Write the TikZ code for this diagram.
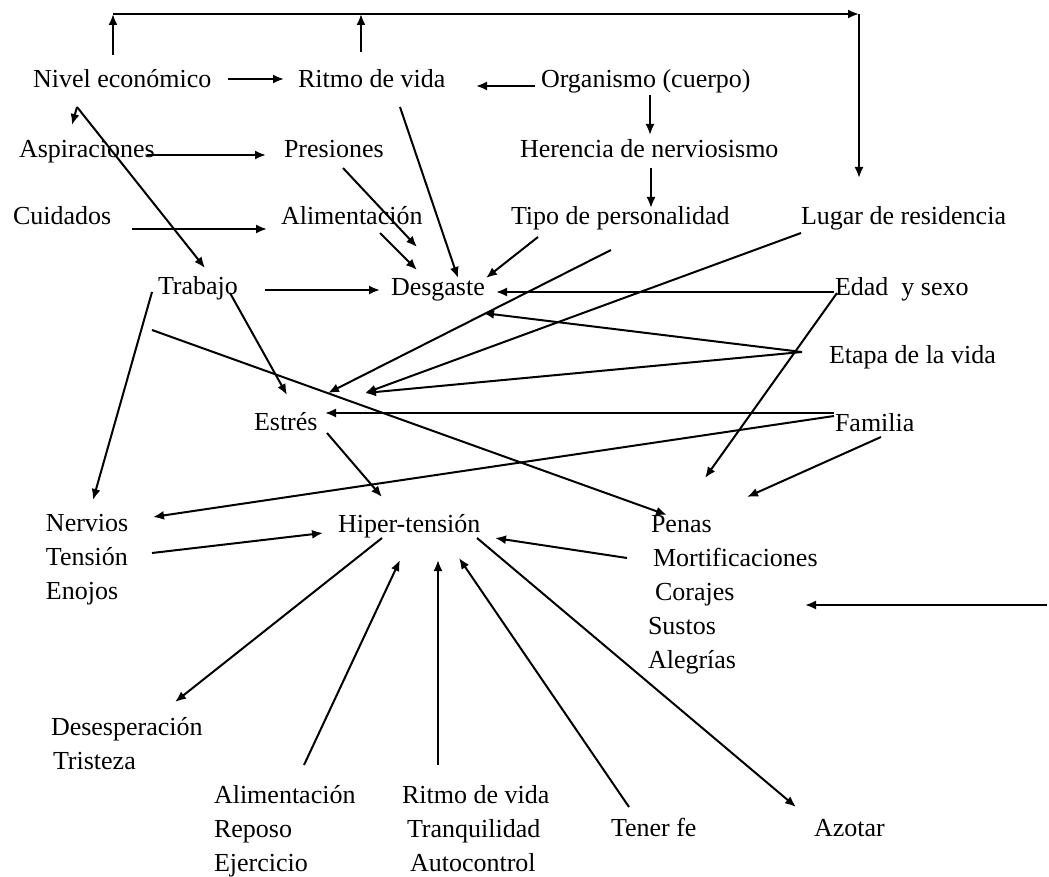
\documentclass[tikz,border=0pt]{standalone}
\usepackage{fontspec}
\setmainfont{Liberation Serif}
\usetikzlibrary{arrows.meta}

\begin{document}
\begin{tikzpicture}[x=0.5pt, y=-0.5pt, line width=1pt, >={Latex[length=5.5pt,width=4.5pt]},
          every node/.style={font=\fontsize{13}{17}\selectfont, inner sep=0pt, anchor=base west},
          list/.style={align=left}]
        \useasboundingbox (0,0) rectangle (1049,877);
        \node (nivel) at (32,88) {Nivel económico};
        \node (ritmo) at (297,88) {Ritmo de vida};
        \node (organismo) at (540,88) {Organismo (cuerpo)};
        \node (aspiraciones) at (18,158) {Aspiraciones};
        \node (presiones) at (283,158) {Presiones};
        \node (herencia) at (519,158) {Herencia de nerviosismo};
        \node (cuidados) at (12,225) {Cuidados};
        \node (alimentacion) at (280,225) {Alimentación};
        \node (tipo) at (510,225) {Tipo de personalidad};
        \node (lugar) at (800,225) {Lugar de residencia};
        \node (trabajo) at (157,294) {Trabajo};
        \node (desgaste) at (390,295) {Desgaste};
        \node (edad) at (834,295) {Edad\ \ y sexo};
        \node (etapa) at (828,363) {Etapa de la vida};
        \node (familia) at (834,431) {Familia};
        \node (estres) at (253,430) {Estrés};
        \node[list] (nervios) at (45,599) {Nervios\\Tensión\\Enojos};
        \node (hiper) at (337,532) {Hiper-tensión};
        \node[list] (penas) at (647,668) {\hspace*{1.5pt}Penas\\\hspace*{2.5pt}Mortificaciones\\\hspace*{3.5pt}Corajes\\Sustos\\Alegrías};
        \node[list] (desesperacion) at (50,769) {Desesperación\\\hspace*{1pt}Tristeza};
        \node[list] (alim_reposo) at (213,871) {Alimentación\\Reposo\\Ejercicio};
        \node[list] (ritmo_calma) at (401,871) {Ritmo de vida\\\hspace*{2.5pt}Tranquilidad\\\hspace*{4pt}Autocontrol};
        \node (fe) at (610,836) {Tener fe};
        \node (azotar) at (813,836) {Azotar};
        \coordinate (corner) at ([shift={(59,-211)}]lugar.base west);
        \coordinate (margen) at ([shift={(400,-63)}]penas.base west);

        \path[->]
        ([shift={(81,-33)}]nivel.base west) edge ([shift={(81,-74)}]nivel.base west)
        ([shift={(64,-36)}]ritmo.base west) edge ([shift={(64,-74)}]ritmo.base west)
        ([shift={(81,-74)}]nivel.base west) edge (corner)
        (corner) edge ([shift={(59,-47)}]lugar.base west)
        ([shift={(196,-9)}]nivel.base west) edge ([shift={(-13,-9)}]ritmo.base west)
        ([shift={(-5,-2)}]organismo.base west) edge ([shift={(179,-2)}]ritmo.base west)
        ([shift={(110,7)}]organismo.base west) edge ([shift={(131,-23)}]herencia.base west)
        ([shift={(132,10)}]herencia.base west) edge ([shift={(141,-17)}]tipo.base west)
        ([shift={(45,19)}]nivel.base west) edge ([shift={(54,-33)}]aspiraciones.base west)
        ([shift={(45,19)}]nivel.base west) edge ([shift={(48,-26)}]trabajo.base west)
        ([shift={(129,-3)}]aspiraciones.base west) edge ([shift={(-17,-3)}]presiones.base west)
        ([shift={(120,4)}]cuidados.base west) edge ([shift={(-13,4)}]alimentacion.base west);

        \path[->]
        ([shift={(60,10)}]presiones.base west) edge ([shift={(27,-48)}]desgaste.base west)
        ([shift={(100,8)}]alimentacion.base west) edge ([shift={(27,-25)}]desgaste.base west)
        ([shift={(103,19)}]ritmo.base west) edge ([shift={(68,-17)}]desgaste.base west)
        ([shift={(28,12)}]tipo.base west) edge ([shift={(96,-17)}]desgaste.base west)
        ([shift={(108,-4)}]trabajo.base west) edge ([shift={(-10,-5)}]desgaste.base west)
        ([shift={(0,-3)}]edad.base west) edge ([shift={(106,-3)}]desgaste.base west)
        ([shift={(-26,-11)}]etapa.base west) edge ([shift={(93,18)}]desgaste.base west);

        \path[->]
        ([shift={(101,25)}]tipo.base west) edge ([shift={(75,-37)}]estres.base west)
        ([shift={(1,8)}]lugar.base west) edge ([shift={(112,-37)}]estres.base west)
        ([shift={(-26,-11)}]etapa.base west) edge ([shift={(112,-37)}]estres.base west)
        ([shift={(0,-18)}]familia.base west) edge ([shift={(72,-17)}]estres.base west)
        ([shift={(73,-1)}]trabajo.base west) edge ([shift={(34,-35)}]estres.base west)
        ([shift={(0,-15)}]familia.base west) edge ([shift={(108,-82)}]nervios.base west)
        ([shift={(-5,-2)}]trabajo.base west) edge ([shift={(48,-99)}]nervios.base west)
        ([shift={(3,-2)}]edad.base west) edge ([shift={(58,-190)}]penas.base west)
        ([shift={(47,6)}]familia.base west) edge ([shift={(100,-171)}]penas.base west)
        ([shift={(-5,36)}]trabajo.base west) edge ([shift={(20,-153)}]penas.base west)
        (margen) edge ([shift={(158,-63)}]penas.base west);

        \path[->]
        ([shift={(74,3)}]estres.base west) edge ([shift={(45,-35)}]hiper.base west)
        ([shift={(107,-46)}]nervios.base west) edge ([shift={(-14,1)}]hiper.base west)
        ([shift={(-20,-110)}]penas.base west) edge ([shift={(158,6)}]hiper.base west)
        ([shift={(45,6)}]hiper.base west) edge ([shift={(125,-67)}]desesperacion.base west)
        ([shift={(91,-106)}]alim_reposo.base west) edge ([shift={(63,28)}]hiper.base west)
        ([shift={(37,-106)}]ritmo_calma.base west) edge ([shift={(101,28)}]hiper.base west)
        ([shift={(19,-29)}]fe.base west) edge ([shift={(122,26)}]hiper.base west)
        ([shift={(140,6)}]hiper.base west) edge ([shift={(-17,-29)}]azotar.base west);
\end{tikzpicture}
\end{document}
